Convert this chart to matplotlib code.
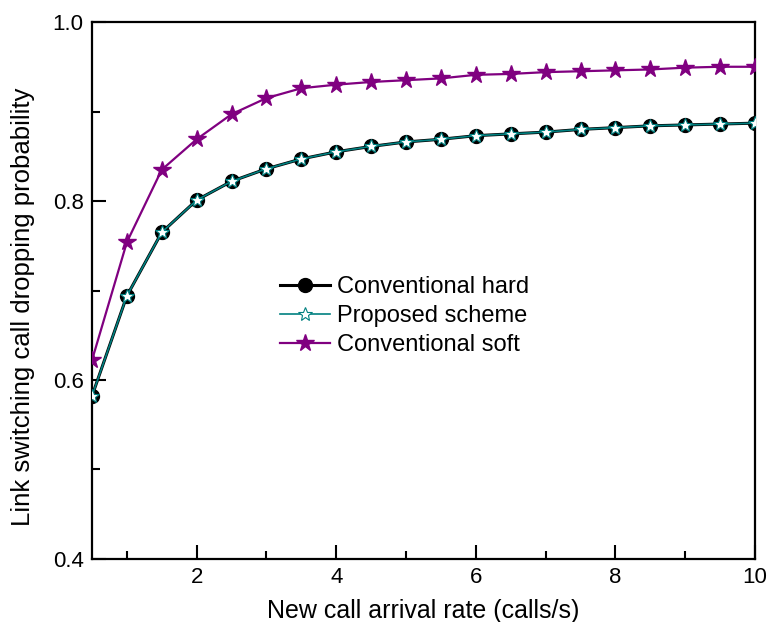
import matplotlib
matplotlib.use('Agg')
import matplotlib.pyplot as plt
from matplotlib.ticker import MultipleLocator

plt.rcParams['font.family'] = ['Liberation Sans', 'DejaVu Sans']

# new call arrival rate (calls/s)
rate = [0.5, 1.0, 1.5, 2.0, 2.5, 3.0, 3.5, 4.0, 4.5, 5.0,
        5.5, 6.0, 6.5, 7.0, 7.5, 8.0, 8.5, 9.0, 9.5, 10.0]

hard = [0.582, 0.694, 0.765, 0.801, 0.822, 0.836, 0.847, 0.855, 0.861, 0.866,
        0.869, 0.873, 0.875, 0.877, 0.880, 0.882, 0.884, 0.885, 0.886, 0.887]
proposed = hard[:]  # same curve as conventional hard
soft = [0.622, 0.754, 0.835, 0.869, 0.897, 0.915, 0.926, 0.930, 0.933, 0.935,
        0.937, 0.941, 0.942, 0.944, 0.945, 0.946, 0.947, 0.949, 0.950, 0.950]

fig = plt.figure(figsize=(7.69, 6.22), dpi=100)
ax = fig.add_axes([0.1196, 0.1013, 0.8622, 0.8633])

ax.plot(rate, hard, color='black', lw=2.2, marker='o', ms=10,
        mfc='black', mec='black', label='Conventional hard', zorder=3)
ax.plot(rate, proposed, color='#008080', lw=1.2, marker='*', ms=10,
        mfc='white', mec='#008080', mew=0.8, label='Proposed scheme', zorder=4)
ax.plot(rate, soft, color='#800080', lw=1.6, marker='*', ms=13,
        mfc='#800080', mec='#800080', label='Conventional soft', zorder=3)

ax.set_xlim(0.5, 10)
ax.set_ylim(0.4, 1.0)
ax.xaxis.set_minor_locator(MultipleLocator(1))
ax.yaxis.set_minor_locator(MultipleLocator(0.1))
ax.set_xticks([2, 4, 6, 8, 10])
ax.set_yticks([0.4, 0.6, 0.8, 1.0])
ax.set_yticklabels(['0.4', '0.6', '0.8', '1.0'])

ax.tick_params(which='both', direction='in', top=False, right=False,
               labelsize=16, width=1.5)
ax.tick_params(which='major', length=10, pad=6)
ax.tick_params(which='minor', length=6)
for s in ax.spines.values():
    s.set_linewidth(1.6)

ax.set_xlabel('New call arrival rate (calls/s)', fontsize=18, labelpad=8)
ax.set_ylabel('Link switching call dropping probability', fontsize=18.5)
ax.yaxis.set_label_coords(-0.086, 0.469)

ax.legend(loc='upper left', bbox_to_anchor=(0.27, 0.545), frameon=False,
          fontsize=17, handlelength=2.1, handletextpad=0.3, labelspacing=0.3,
          borderaxespad=0)

fig.savefig('out.png', dpi=100)
